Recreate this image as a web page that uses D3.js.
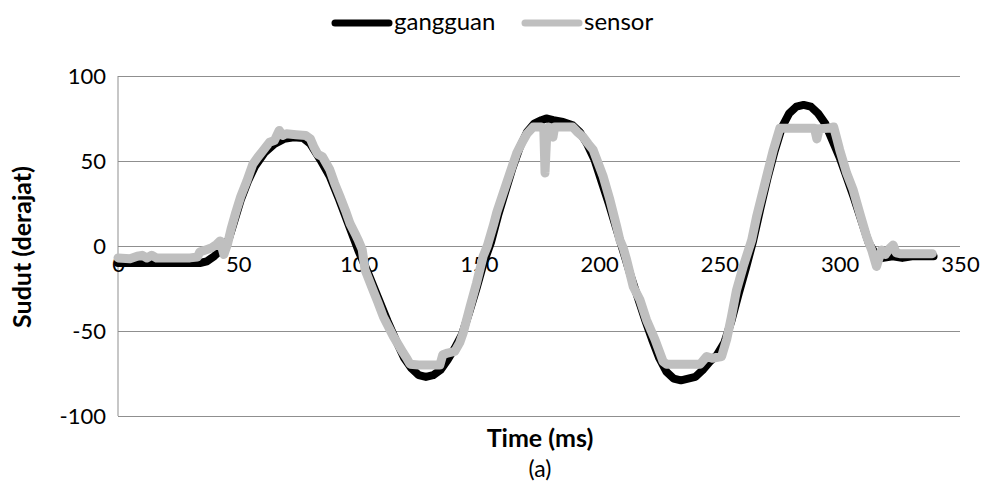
<!DOCTYPE html>
<html>
<head>
<meta charset="utf-8">
<script src="https://cdn.jsdelivr.net/npm/d3@7"></script>
<style>
  html, body { margin: 0; padding: 0; background: #fff; }
  svg { display: block; }
  text { font-family: Lato, "Open Sans", sans-serif; fill: #000; }
</style>
</head>
<body>
<svg id="chart" width="986" height="484"></svg>
<script>
// Disturbance angle (gangguan) and sensor reading, in degrees over time (ms)
const gangguanTime = [0, 34, 37, 40, 43, 46, 48, 51, 54, 57, 61, 65, 69, 73, 77, 80, 84, 88, 92, 96,
  100, 104, 108, 112, 116, 119, 122, 125, 128, 131, 134, 137, 140, 143, 146, 149, 152, 155, 158, 161,
  164, 167, 170, 173, 176, 178, 181, 185, 189, 192, 195, 198, 201, 204, 207, 210, 213, 216, 219, 222,
  225, 228, 231, 234, 237, 240, 243, 246, 249, 252, 255, 258, 261, 264, 267, 270, 273, 276, 279, 282,
  285, 288, 291, 294, 297, 300, 303, 306, 309, 312, 315, 318, 322, 326, 330, 335, 339];
const gangguanValue = [-10, -10, -9, -6, -2, 4, 13, 27, 38, 47, 55, 60, 63, 64, 63.5, 60, 51, 41, 27, 12,
  -3, -16, -30, -44, -57, -66, -72, -76, -77, -76, -73, -67, -60, -52, -39, -25, -10, 2, 18, 32,
  46, 58, 67, 72, 74, 75, 74, 73, 71, 67, 60, 51, 38, 25, 11, -3, -17, -30, -43, -55,
  -66, -74, -78, -79, -78, -77, -73, -68, -64, -57, -44, -28, -13, 3, 22, 40, 56, 70, 78, 82,
  83, 82, 78, 72, 62, 52, 40, 28, 15, 2, -5, -7, -6, -7, -6, -6, -6];

const sensorTime = [0, 5, 8, 10, 12, 14, 16, 20, 25, 30, 33, 34, 37, 39, 41, 42.5, 44, 45.5, 47, 49,
  51, 53.5, 56, 58, 60.5, 63, 65, 67, 68.5, 70, 74, 78, 80, 81.5, 83, 85, 88, 90, 92.3, 94.5,
  96.5, 99, 100, 101.5, 102.7, 106, 108, 110.3, 114.4, 118.6, 120, 121.4, 125, 130, 133.8, 135, 137, 140, 142, 143.5,
  146.3, 149, 151.8, 153.5, 156, 157.5, 161.5, 165.7, 168, 170, 172.6, 176, 177, 177.5, 178.3, 179, 180.8, 181.5, 185, 189,
  191, 193.4, 195.5, 197.5, 199.5, 201.7, 204.5, 207.3, 208.6, 210, 211.4, 214.2, 217, 219.7, 223.2, 226.6, 228, 235,
  242, 244.7, 247, 250.9, 253, 255, 257.1, 259.9, 263.4, 265.4, 269.6, 272.4, 275.1, 280, 285, 289.5, 290.5, 291.5,
  295, 297.5, 299, 300, 302.9, 305.6, 308.4, 311.2, 313.3, 315.3, 317.4, 319, 321, 322.2, 323.5, 325, 330, 335, 338.5];
const sensorValue = [-7, -7.5, -6, -5.5, -7, -5.5, -7, -7, -7, -7, -6.5, -3.5, -2, -1, 1, 3, -5, 1, 10, 20,
  29, 38, 48, 52, 56.5, 61, 62, 68, 65, 66, 65.5, 65, 63, 58, 54, 52.5, 45, 37, 29, 21,
  13, 6, 3, -2, -14, -26, -33, -41.6, -53, -63, -66, -69.5, -70, -70, -70, -64, -63, -62, -57, -51,
  -36, -22, -6, 0, 12, 20, 37, 54.5, 61, 66, 70, 70, 68, 43, 68, 70, 64, 70, 70, 70,
  67, 64, 60, 56.5, 49, 40.8, 27, 11.4, 3.5, -1, -8, -24, -31.8, -43.5, -55, -68, -69.5, -69.5,
  -69.5, -65, -66, -65, -55, -41.6, -26, -12, 3.5, 17, 40.8, 56.5, 69.2, 69.2, 69.2, 69.2, 63, 69,
  69.2, 70, 62, 56.5, 42.8, 33, 19, 5.5, -2.4, -12, -2.4, -5, -1, 0.6, -4, -4.5, -4.5, -4.5, -4.5];

const xTicks = [0, 50, 100, 150, 200, 250, 300, 350];
const yTicks = [-100, -50, 0, 50, 100];
const seriesNames = ["gangguan", "sensor"];
const seriesColors = ["#000000", "#bfbfbf"];

const svg = d3.select("#chart");
const plot = { left: 118, right: 960, top: 76, bottom: 416 };

const x = d3.scaleLinear().domain([0, 350]).range([plot.left, plot.right]);
const y = d3.scaleLinear().domain([-100, 100]).range([plot.bottom, plot.top]);

// Plain hyphen for negative labels
const fmt = d => String(d);

// Horizontal gridlines
const yAxis = d3.axisLeft(y).tickValues(yTicks).tickSize(-(plot.right - plot.left)).tickPadding(12).tickFormat(fmt);
const gy = svg.append("g").attr("transform", `translate(${plot.left},0)`).call(yAxis);
gy.select(".domain").remove();
gy.selectAll(".tick line").attr("stroke", "#8f8f8f").attr("stroke-width", 1);
gy.selectAll(".tick text").attr("font-size", 22).attr("fill", "#000");

// Vertical axis line
svg.append("line")
  .attr("x1", plot.left).attr("x2", plot.left)
  .attr("y1", plot.top).attr("y2", plot.bottom)
  .attr("stroke", "#8f8f8f").attr("stroke-width", 1);

// Horizontal axis crosses at zero; labels sit just under it
const xAxis = d3.axisBottom(x).tickValues(xTicks).tickSize(0).tickPadding(10).tickFormat(fmt);
const gx = svg.append("g").attr("transform", `translate(0,${y(0)})`).call(xAxis);
gx.select(".domain").remove();
gx.selectAll(".tick text").attr("font-size", 22).attr("fill", "#000");

// Series lines
const line = d3.line().x(d => x(d[0])).y(d => y(d[1]));
const gData = gangguanTime.map((t, i) => [t, gangguanValue[i]]);
const sData = sensorTime.map((t, i) => [t, sensorValue[i]]);
const widths = [8, 9];

[gData, sData].forEach((data, i) => {
  svg.append("path")
    .datum(data)
    .attr("d", line)
    .attr("fill", "none")
    .attr("stroke", seriesColors[i])
    .attr("stroke-width", widths[i])
    .attr("stroke-linejoin", "round")
    .attr("stroke-linecap", "round");
});

// Legend
const legendItems = [
  { name: seriesNames[0], color: seriesColors[0], x: 332 },
  { name: seriesNames[1], color: seriesColors[1], x: 522 }
];
legendItems.forEach(item => {
  svg.append("line")
    .attr("x1", item.x + 3).attr("x2", item.x + 57)
    .attr("y1", 23).attr("y2", 23)
    .attr("stroke", item.color).attr("stroke-width", 7)
    .attr("stroke-linecap", "round");
  svg.append("text")
    .attr("x", item.x + 62).attr("y", 30)
    .attr("font-size", 24)
    .text(item.name);
});

// Axis titles
svg.append("text")
  .attr("x", 540).attr("y", 447)
  .attr("text-anchor", "middle").attr("font-size", 25).attr("font-weight", "bold")
  .text("Time (ms)");

svg.append("text")
  .attr("transform", `translate(31,247) rotate(-90)`)
  .attr("text-anchor", "middle").attr("font-size", 25).attr("font-weight", "bold")
  .text("Sudut (derajat)");

svg.append("text")
  .attr("x", 540).attr("y", 477)
  .attr("text-anchor", "middle").attr("font-size", 23)
  .text("(a)");
</script>
</body>
</html>
